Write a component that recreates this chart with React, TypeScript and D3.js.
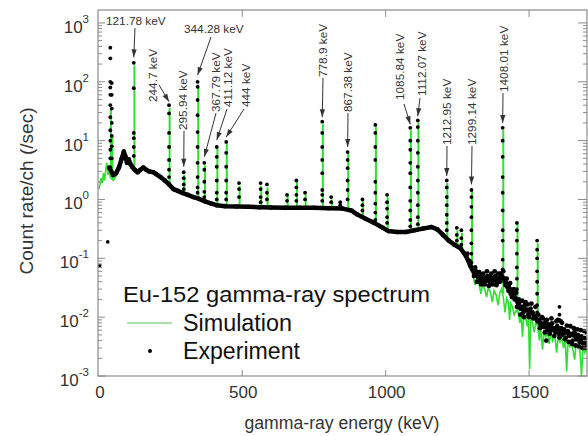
import React from "react";
import * as d3 from "d3";

// experimental spectrum, continuum part: [energy keV, count rate /sec]
const expContinuum: [number, number][] = [
  [36, 3.5], [50, 2.6], [60, 2.8], [70, 3.5], [80, 5.0], [87, 6.5], [92, 5.5], [98, 4.2],
  [104, 4.8], [110, 4.0], [116, 3.6], [125, 3.2], [135, 2.9], [145, 3.2], [155, 3.5],
  [165, 3.2], [175, 3.0], [190, 2.9], [200, 2.7], [215, 2.4], [230, 2.1], [245, 1.8],
  [260, 1.5], [275, 1.4], [290, 1.3], [310, 1.2], [330, 1.1], [350, 1.02], [370, 0.93],
  [390, 0.86], [410, 0.8], [440, 0.77], [480, 0.76], [520, 0.75], [560, 0.74], [600, 0.73],
  [650, 0.72], [700, 0.72], [750, 0.72], [800, 0.71], [850, 0.7], [880, 0.65], [900, 0.56],
  [930, 0.47], [960, 0.4], [990, 0.33], [1010, 0.29], [1040, 0.28], [1070, 0.28], [1100, 0.3],
  [1130, 0.32], [1160, 0.34], [1180, 0.31], [1200, 0.25], [1220, 0.2], [1240, 0.17],
  [1260, 0.15], [1280, 0.11], [1295, 0.075], [1310, 0.055], [1330, 0.045], [1350, 0.042],
  [1370, 0.045], [1390, 0.042], [1405, 0.05], [1420, 0.038], [1440, 0.027], [1455, 0.02],
  [1470, 0.014], [1490, 0.0135], [1510, 0.012], [1530, 0.0085], [1550, 0.0075],
  [1570, 0.0068], [1590, 0.0064], [1610, 0.006], [1630, 0.0055], [1650, 0.005],
  [1670, 0.0046], [1690, 0.0042], [1705, 0.004],
];

// noisy channels around the high-energy continuum
const expScatter: [number, number][] = [
  [1285, 0.12], [1292, 0.09], [1302, 0.065], [1308, 0.05], [1312, 0.07], [1315, 0.06],
  [1318, 0.04], [1322, 0.048], [1326, 0.058], [1328, 0.04], [1333, 0.036], [1335, 0.052],
  [1340, 0.055], [1342, 0.038], [1346, 0.036], [1348, 0.047], [1353, 0.06], [1355, 0.05],
  [1360, 0.034], [1362, 0.04], [1366, 0.048], [1368, 0.055], [1373, 0.036], [1375, 0.042],
  [1380, 0.06], [1382, 0.05], [1386, 0.035], [1388, 0.038], [1393, 0.055], [1395, 0.046],
  [1398, 0.04], [1400, 0.055], [1410, 0.06], [1413, 0.045], [1415, 0.04], [1418, 0.035],
  [1422, 0.045], [1425, 0.032], [1428, 0.028], [1430, 0.036], [1434, 0.038], [1436, 0.025],
  [1440, 0.022], [1445, 0.024], [1447, 0.03], [1450, 0.02], [1455, 0.026], [1458, 0.015],
  [1462, 0.016], [1464, 0.02], [1466, 0.018], [1470, 0.011], [1474, 0.015], [1476, 0.019],
  [1480, 0.012], [1483, 0.01], [1485, 0.016], [1488, 0.018], [1492, 0.013], [1495, 0.0165],
  [1497, 0.011], [1500, 0.01], [1505, 0.014], [1508, 0.017], [1512, 0.012], [1515, 0.0095],
  [1518, 0.01], [1522, 0.015], [1532, 0.011], [1535, 0.009], [1538, 0.0065], [1540, 0.0075],
  [1545, 0.01], [1548, 0.0095], [1552, 0.0068], [1555, 0.0055], [1558, 0.0085], [1560, 0.004],
  [1562, 0.009], [1563, 0.006], [1568, 0.0075], [1572, 0.0052], [1575, 0.0058], [1578, 0.0095],
  [1580, 0.0078], [1585, 0.0062], [1588, 0.0048], [1592, 0.0055], [1595, 0.0085],
  [1598, 0.007], [1600, 0.009], [1604, 0.0052], [1606, 0.0045], [1610, 0.0085], [1612, 0.0065],
  [1615, 0.008], [1617, 0.005], [1622, 0.0062], [1625, 0.0042], [1628, 0.0045], [1632, 0.0072],
  [1635, 0.0058], [1638, 0.0038], [1640, 0.0048], [1644, 0.007], [1646, 0.0052],
  [1650, 0.0035], [1652, 0.004], [1656, 0.0065], [1658, 0.0055], [1662, 0.0033],
  [1664, 0.0042], [1668, 0.0062], [1670, 0.005], [1674, 0.0032], [1676, 0.0038], [1680, 0.006],
  [1682, 0.0047], [1686, 0.003], [1688, 0.0036], [1692, 0.0058], [1694, 0.0044], [1698, 0.003],
  [1700, 0.0035], [1702, 0.0055], [1704, 0.0042],
];

// stray low-energy points
const expStray: [number, number][] = [[3, 0.075], [31, 0.19]];

// peak channels of the experiment: [energy, count rates of the dots in the column]
const expPeaks: [number, number[]][] = [
  [40, [380, 250, 100, 80, 60, 40, 25, 15, 10, 7, 5, 3.5]],
  [45, [95, 60, 35, 20, 12, 8, 5]],
  [121.78, [210, 78, 13.5, 11, 7.8, 5.5]],
  [244.7, [40, 29, 13.5, 7.8, 4.7, 3.2, 2.4]],
  [295.94, [2.9, 2.3, 1.8, 1.5]],
  [344.28, [100, 82, 49, 27, 14, 7.8, 4.2, 2.4, 1.6, 1.3]],
  [367.79, [4.2, 3.2, 2.0, 1.35, 1.1]],
  [411.12, [7.8, 5.3, 3.6, 2.1, 1.3, 1.0]],
  [444, [9.5, 6.2, 3.6, 2.1, 1.3, 1.0]],
  [488.7, [1.9, 1.5, 1.1]],
  [564, [1.9, 1.5, 1.1, 0.9]],
  [586, [1.8, 1.3, 1.0]],
  [656, [1.2, 0.95]],
  [688.7, [2.1, 1.6, 1.2, 0.95]],
  [719, [1.3, 1.0]],
  [778.9, [21, 13.5, 7.8, 4.7, 2.8, 1.45, 1.2, 0.95]],
  [810, [1.1, 0.9]],
  [841.6, [0.9, 0.8]],
  [867.38, [6.4, 4.7, 3.4, 2.1, 1.45, 1.0]],
  [919, [1.0, 0.8, 0.65]],
  [964, [18.5, 13.5, 7.8, 4.7, 2.0, 1.3, 0.85, 0.6, 0.45]],
  [1005, [1.2, 0.9, 0.7, 0.5, 0.4]],
  [1085.84, [16.5, 10, 7, 4.2, 2.8, 1.6, 0.95, 0.65, 0.45, 0.35]],
  [1112.07, [22, 17, 10, 6.2, 3.6, 2.1, 1.3, 0.8, 0.5, 0.38]],
  [1212.95, [2.1, 1.6, 1.1, 0.8, 0.55, 0.4, 0.3]],
  [1248, [0.33, 0.25, 0.2]],
  [1264, [0.3, 0.22, 0.17]],
  [1299.14, [1.45, 1.1, 0.75, 0.5, 0.3, 0.18, 0.12, 0.085]],
  [1408.01, [16.5, 10, 5.3, 2.4, 1.3, 0.65, 0.3, 0.2, 0.095, 0.065]],
  [1457.6, [0.4, 0.3, 0.2, 0.12, 0.07, 0.045, 0.03, 0.02]],
  [1528.1, [0.2, 0.14, 0.1, 0.06, 0.04, 0.025, 0.016, 0.012]],
  [1606, [0.015, 0.011, 0.009]],
];

// simulated continuum
const simContinuum: [number, number][] = [
  [0, 1.5], [4, 1.8], [8, 2.3], [12, 1.9], [16, 2.8], [20, 2.1], [24, 3.2], [28, 4.2],
  [32, 2.6], [36, 3.0], [40, 2.4], [50, 2.1], [60, 2.5], [70, 3.3], [80, 4.8], [87, 6.2],
  [92, 5.2], [98, 4.0], [104, 4.5], [110, 3.8], [116, 3.4], [125, 3.0], [135, 2.8],
  [145, 3.0], [155, 3.3], [165, 3.0], [175, 2.9], [190, 2.8], [200, 2.6], [215, 2.3],
  [230, 2.0], [245, 1.7], [260, 1.45], [275, 1.35], [290, 1.25], [310, 1.15], [330, 1.05],
  [350, 0.98], [370, 0.9], [390, 0.83], [410, 0.78], [440, 0.75], [480, 0.74], [520, 0.73],
  [560, 0.72], [600, 0.71], [650, 0.7], [700, 0.7], [750, 0.7], [800, 0.69], [850, 0.68],
  [880, 0.63], [900, 0.54], [930, 0.45], [960, 0.38], [990, 0.31], [1010, 0.28],
  [1040, 0.27], [1070, 0.27], [1100, 0.29], [1130, 0.31], [1160, 0.33], [1180, 0.3],
  [1200, 0.24], [1220, 0.19], [1240, 0.16], [1260, 0.14], [1280, 0.1], [1295, 0.07],
  [1305, 0.05], [1312, 0.035], [1318, 0.045], [1325, 0.038], [1332, 0.025], [1338, 0.036],
  [1345, 0.03], [1352, 0.022], [1358, 0.032], [1365, 0.027], [1372, 0.018], [1378, 0.028],
  [1385, 0.024], [1392, 0.016], [1398, 0.026], [1404, 0.03], [1410, 0.022], [1416, 0.012],
  [1422, 0.021], [1428, 0.018], [1432, 0.009], [1436, 0.017], [1442, 0.015], [1448, 0.011],
  [1455, 0.013], [1462, 0.012], [1468, 0.008], [1472, 0.012], [1477, 0.0046], [1482, 0.011],
  [1488, 0.01], [1494, 0.007], [1498, 0.01], [1502, 0.0013], [1506, 0.0095], [1512, 0.008],
  [1518, 0.0055], [1524, 0.0085], [1530, 0.007], [1536, 0.004], [1540, 0.0068],
  [1547, 0.0028], [1552, 0.006], [1558, 0.0045], [1564, 0.0058], [1570, 0.0035],
  [1576, 0.0055], [1582, 0.004], [1590, 0.005], [1596, 0.0025], [1602, 0.0048],
  [1608, 0.0038], [1614, 0.0045], [1620, 0.003], [1626, 0.0042], [1631, 0.0012],
  [1636, 0.004], [1642, 0.0032], [1648, 0.0038], [1654, 0.0026], [1659, 0.0019],
  [1664, 0.0036], [1670, 0.003], [1676, 0.0034], [1683, 0.001], [1688, 0.0032],
  [1694, 0.0025], [1700, 0.003], [1705, 0.0022],
];

// simulated peaks: [energy, top, foot]
const simPeaks: [number, number, number][] = [
  [40, 35, 2.4], [45, 12, 2.2], [121.78, 190, 3.6], [244.7, 36, 1.75], [295.94, 2.6, 1.25],
  [344.28, 90, 1.0], [367.79, 3.8, 0.9], [411.12, 7.5, 0.78], [444, 9, 0.76],
  [488.7, 1.7, 0.75], [564, 1.7, 0.73], [586, 1.6, 0.72], [656, 1.2, 0.7], [688.7, 2.0, 0.7],
  [719, 1.2, 0.7], [778.9, 19, 0.7], [810, 1.0, 0.69], [841.6, 0.85, 0.68], [867.38, 6, 0.67],
  [919, 0.95, 0.5], [964, 17, 0.38], [1005, 1.1, 0.29], [1085.84, 15, 0.27],
  [1112.07, 20, 0.29], [1212.95, 1.9, 0.22], [1248, 0.3, 0.15], [1264, 0.27, 0.14],
  [1299.14, 1.4, 0.07], [1408.01, 15, 0.025], [1457.6, 0.38, 0.012], [1528.1, 0.18, 0.007],
];

const energyTicks = [0, 500, 1000, 1500];
const decades = [-3, -2, -1, 0, 1, 2, 3];

// peak labels; tip = count rate where the arrow ends, tx/ty/sx/sy = label placement in px
const labels = [
  { text: "121.78 keV", e: 121.78, tip: 260, rot: false, tx: 106, ty: 25, sx: 135, sy: 28 },
  { text: "244.7 keV", e: 244.7, tip: 46, rot: true, tx: 153, ty: 102, sx: 159, sy: 85 },
  { text: "295.94 keV", e: 295.94, tip: 3.6, rot: true, tx: 183, ty: 130, sx: 184, sy: 131 },
  { text: "344.28 keV", e: 344.28, tip: 130, rot: false, tx: 184, ty: 33, sx: 211, sy: 37 },
  { text: "367.79 keV", e: 367.79, tip: 5.3, rot: true, tx: 216, ty: 112, sx: 216, sy: 113 },
  { text: "411.12 keV", e: 411.12, tip: 10.2, rot: true, tx: 228, ty: 107, sx: 227, sy: 109 },
  { text: "444 keV", e: 444, tip: 11.5, rot: true, tx: 246, ty: 107, sx: 244, sy: 109 },
  { text: "778.9 keV", e: 778.9, tip: 25, rot: true, tx: 323, ty: 77, sx: 323, sy: 78 },
  { text: "867.38 keV", e: 867.38, tip: 7.8, rot: true, tx: 348, ty: 112, sx: 348, sy: 113 },
  { text: "1085.84 keV", e: 1085.84, tip: 19, rot: true, tx: 400, ty: 100, sx: 404, sy: 104 },
  { text: "1112.07 keV", e: 1112.07, tip: 26, rot: true, tx: 422, ty: 96, sx: 420, sy: 98 },
  { text: "1212.95 keV", e: 1212.95, tip: 2.5, rot: true, tx: 447, ty: 145, sx: 447, sy: 146 },
  { text: "1299.14 keV", e: 1299.14, tip: 1.8, rot: true, tx: 472, ty: 145, sx: 472, sy: 146 },
  { text: "1408.01 keV", e: 1408.01, tip: 20, rot: true, tx: 504, ty: 92, sx: 503, sy: 93 },
];

const FONT = "'Liberation Sans', Arial, sans-serif";
const GREEN = "#2fe02f";
const AXIS = "#8a8a8a";
const INK = "#333";

const App = () => {
  const x = d3.scaleLinear().domain([-3, 1702]).range([98, 587]);
  const y = d3.scaleLog().domain([1e-3, Math.pow(10, 3.22)]).range([376, 10]);
  const [x0, x1] = x.range();
  const [y0, y1] = y.range();

  const line = d3
    .line<[number, number]>()
    .x(d => x(d[0]))
    .y(d => y(d[1]));

  const yTicks = y.ticks();

  const arrowHead = (sx: number, sy: number, tx: number, ty: number) => {
    const a = Math.atan2(ty - sy, tx - sx);
    const L = 8, hw = 2.6;
    const bx = tx - L * Math.cos(a), by = ty - L * Math.sin(a);
    const px = -Math.sin(a) * hw, py = Math.cos(a) * hw;
    return `${tx},${ty} ${bx + px},${by + py} ${bx - px},${by - py}`;
  };

  return (
    <svg width={588} height={436} style={{ position: "absolute", left: 0, top: 0 }} fontFamily={FONT}>
      <rect width={588} height={436} fill="white" />
      <defs>
        <clipPath id="plot">
          <rect x={x0} y={y1} width={x1 - x0} height={y0 - y1} />
        </clipPath>
      </defs>

      <g clipPath="url(#plot)">
        <path d={line(simContinuum) || ""} fill="none" stroke={GREEN} strokeWidth={1.6} />
        {simPeaks.map(([e, top, foot], i) => (
          <line key={i} x1={x(e) + 0.6} x2={x(e) + 0.6} y1={y(top)} y2={y(foot)} stroke={GREEN} strokeWidth={2} />
        ))}
        <path d={line(expContinuum) || ""} fill="none" stroke="#000" strokeWidth={4.5} strokeLinejoin="round" />
        {expContinuum.map(([e, v], i) => (
          <circle key={"c" + i} cx={x(e)} cy={y(v)} r={2.3} fill="#000" />
        ))}
        {expScatter.map(([e, v], i) => (
          <circle key={"s" + i} cx={x(e)} cy={y(v)} r={2.4} fill="#000" />
        ))}
        {expStray.map(([e, v], i) => (
          <circle key={"t" + i} cx={x(e)} cy={y(v)} r={1.8} fill="#000" />
        ))}
        {expPeaks.map(([e, vals], i) =>
          vals.map((v, j) => <circle key={i + "-" + j} cx={x(e)} cy={y(v)} r={1.9} fill="#000" />)
        )}
      </g>

      {/* frame */}
      <rect x={x0} y={y1} width={x1 - x0} height={y0 - y1} fill="none" stroke={AXIS} strokeWidth={1.2} />

      {/* y ticks, left and right */}
      {yTicks.map((t, i) => {
        const major = Math.abs(Math.log10(t) - Math.round(Math.log10(t))) < 1e-6;
        const yy = y(t);
        return (
          <g key={i} stroke={AXIS} strokeWidth={1}>
            <line x1={x0} x2={x0 + (major ? 7 : 4)} y1={yy} y2={yy} />
            <line x1={x1} x2={x1 - (major ? 9 : 4)} y1={yy} y2={yy} />
          </g>
        );
      })}
      {decades.map(k => (
        <text key={k} x={89} y={y(Math.pow(10, k)) + 10} textAnchor="end" fontSize={17} fill={INK}>
          10
          <tspan dy={-10} fontSize={11.5}>{k}</tspan>
        </text>
      ))}

      {/* x ticks, bottom and top */}
      {energyTicks.map(t => (
        <g key={t}>
          {t > 0 && (
            <g stroke={AXIS} strokeWidth={1}>
              <line x1={x(t)} x2={x(t)} y1={y0} y2={y0 - 6} />
              <line x1={x(t)} x2={x(t)} y1={y1} y2={y1 + 7} />
            </g>
          )}
          <text x={x(t) + 1} y={398} textAnchor="middle" fontSize={17} fill={INK}>{t}</text>
        </g>
      ))}

      {/* axis titles */}
      <text x={342} y={429} textAnchor="middle" fontSize={17.5} fill={INK} textLength={195} lengthAdjust="spacingAndGlyphs">
        gamma-ray energy (keV)
      </text>
      <text transform="translate(33,191) rotate(-90)" textAnchor="middle" fontSize={18} fill={INK} textLength={167} lengthAdjust="spacingAndGlyphs">
        Count rate/ch (/sec)
      </text>

      {/* peak labels */}
      {labels.map((l, i) => {
        const tx = x(l.e), ty = y(l.tip);
        return (
          <g key={i} fill={INK}>
            <line x1={l.sx} y1={l.sy} x2={tx} y2={ty} stroke={INK} strokeWidth={1} />
            <polygon points={arrowHead(l.sx, l.sy, tx, ty)} fill={INK} />
            {l.rot ? (
              <text transform={`translate(${l.tx},${l.ty}) rotate(-90)`} dy="0.35em" fontSize={11.8}>{l.text}</text>
            ) : (
              <text x={l.tx} y={l.ty} fontSize={11.8}>{l.text}</text>
            )}
          </g>
        );
      })}

      {/* legend */}
      <text x={123} y={302} fontSize={22.5} fill="#111" textLength={307} lengthAdjust="spacingAndGlyphs">
        Eu-152 gamma-ray spectrum
      </text>
      <line x1={127} x2={172} y1={323} y2={323} stroke="#8ed68e" strokeWidth={1.5} />
      <text x={183} y={331} fontSize={23} fill="#111" textLength={109} lengthAdjust="spacingAndGlyphs">Simulation</text>
      <circle cx={150} cy={351} r={2} fill="#000" />
      <text x={183} y={359} fontSize={23} fill="#111" textLength={117} lengthAdjust="spacingAndGlyphs">Experiment</text>
    </svg>
  );
};

export default App;
